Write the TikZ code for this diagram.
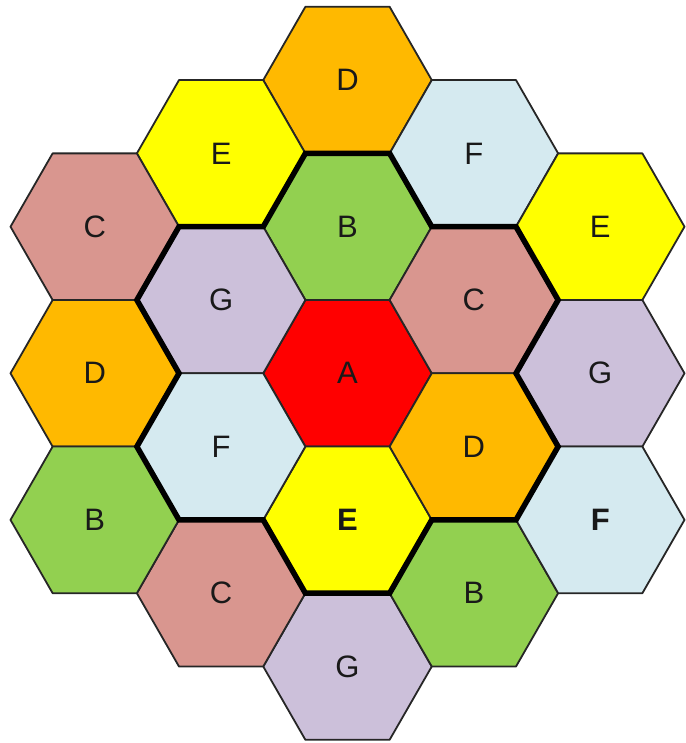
\documentclass[tikz,border=0pt]{standalone}
\usepackage{fontspec}
\setmainfont{Liberation Sans}
\definecolor{cA}{HTML}{FF0000}
\definecolor{cB}{HTML}{92D050}
\definecolor{cC}{HTML}{D9968F}
\definecolor{cD}{HTML}{FFB900}
\definecolor{cE}{HTML}{FFFF00}
\definecolor{cF}{HTML}{D5EAF0}
\definecolor{cG}{HTML}{CCC0DA}
\begin{document}
\begin{tikzpicture}[x=1pt,y=1pt,
  cell/.style={draw=black!85, line width=1.8pt, line join=round},
  lbl/.style={font=\fontsize{31}{31}\selectfont, text=black!90, inner sep=0pt},
  lblb/.style={lbl, font=\fontsize{31}{31}\selectfont\bfseries},
  ring/.style={draw=black, line width=5.5pt, line join=miter}]
\useasboundingbox (0,0) rectangle (685,743);
\pgfmathsetmacro\R{84.25}
\pgfmathsetmacro\H{73.3}
\coordinate (O) at (347.5,369.7);
\foreach \k/\m/\c/\t/\s [count=\i] in {
  0/2/cD/D/lbl, 0/1/cB/B/lbl, 0/0/cA/A/lbl, 0/-1/cE/E/lblb, 0/-2/cG/G/lbl,
  -1/1.5/cE/E/lbl, -1/0.5/cG/G/lbl, -1/-0.5/cF/F/lbl, -1/-1.5/cC/C/lbl,
  1/1.5/cF/F/lbl, 1/0.5/cC/C/lbl, 1/-0.5/cD/D/lbl, 1/-1.5/cB/B/lbl,
  -2/1/cC/C/lbl, -2/0/cD/D/lbl, -2/-1/cB/B/lbl,
  2/1/cE/E/lbl, 2/0/cG/G/lbl, 2/-1/cF/F/lblb} {
  \pgfmathsetmacro\cx{347.5+1.5*\R*\k}
  \pgfmathsetmacro\cy{369.7+2*\H*\m}
  \begin{scope}[shift={(\cx,\cy)}]
    \filldraw[cell, fill=\c] (\R,0) -- (\R/2,\H) -- (-\R/2,\H) -- (-\R,0)
      -- (-\R/2,-\H) -- (\R/2,-\H) -- cycle;
    \node[\s] (h\i) at (0,0) {\t};
  \end{scope}
}
\begin{scope}[shift={(O)}]
\draw[ring] (-0.5*\R,3*\H) -- (0.5*\R,3*\H) -- (\R,2*\H) -- (2*\R,2*\H)
  -- (2.5*\R,\H) -- (2*\R,0) -- (2.5*\R,-\H) -- (2*\R,-2*\H) -- (\R,-2*\H)
  -- (0.5*\R,-3*\H) -- (-0.5*\R,-3*\H) -- (-\R,-2*\H) -- (-2*\R,-2*\H)
  -- (-2.5*\R,-\H) -- (-2*\R,0) -- (-2.5*\R,\H) -- (-2*\R,2*\H) -- (-\R,2*\H)
  -- cycle;
\end{scope}
\end{tikzpicture}
\end{document}
